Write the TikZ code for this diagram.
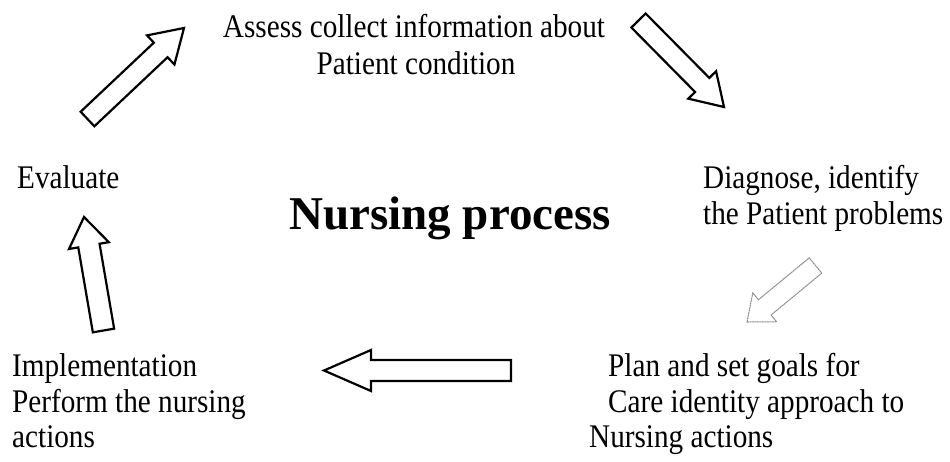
\documentclass[tikz,border=0pt]{standalone}
\usepackage{fontspec}
\setmainfont{Liberation Serif}[FakeStretch=0.885]
\newfontfamily\headfont{Liberation Serif}
\usetikzlibrary{calc}
\tikzset{
  lbl/.style={inner sep=0pt, anchor=base west, font=\fontsize{33}{36}\selectfont},
  head/.style={inner sep=0pt, anchor=base west, font=\headfont\fontsize{47}{52}\selectfont\bfseries},
  arrowline/.style={draw=black, fill=white, line width=2.2pt, line join=miter},
  faintarrow/.style={draw=black!45, fill=white, line width=1pt, dash pattern=on 2pt off 0.5pt}
}
% #1 style, #2 tail coordinate, #3 tip coordinate, #4 shaft half width, #5 head half width, #6 head length
\newcommand\blockarrow[6][arrowline]{%
  \coordinate (#2-base) at ($(#3)!#6pt!(#2)$);
  \draw[#1] ($(#2)!#4pt!90:(#3)$) -- ($(#2-base)!#4pt!90:(#3)$) -- ($(#2-base)!#5pt!90:(#3)$)
    -- (#3) -- ($(#2-base)!#5pt!-90:(#3)$) -- ($(#2-base)!#4pt!-90:(#3)$) -- ($(#2)!#4pt!-90:(#3)$) -- cycle;
}
\begin{document}
\begin{tikzpicture}[x=1pt,y=-1pt]
\useasboundingbox (0,0) rectangle (950,461);

% texts
\node[lbl, anchor=base] (assess1) at (414,37) {Assess collect information about};
\node[lbl, anchor=base] (assess2) at (416,74) {Patient condition};
\node[lbl] (evaluate) at (17,188) {Evaluate};
\node[lbl] (diag1) at (703,188) {Diagnose, identify};
\node[lbl] (diag2) at (703,224) {the Patient problems};
\node[head] (title) at (289,229) {Nursing process};
\node[lbl] (impl1) at (12,376) {Implementation};
\node[lbl] (impl2) at (12,412) {Perform the nursing};
\node[lbl] (impl3) at (12,447) {actions};
\node[lbl] (plan1) at (608,376) {Plan and set goals for};
\node[lbl] (plan2) at (608,412) {Care identity approach to};
\node[lbl] (plan3) at (589,447) {Nursing actions};

% arrows
\coordinate (a1t) at (87.5,119);  \coordinate (a1h) at (184,28);
\blockarrow{a1t}{a1h}{10}{20}{32}
\coordinate (a2t) at (638.5,20.5); \coordinate (a2h) at (724,107);
\blockarrow{a2t}{a2h}{10}{19.5}{31}
\coordinate (a3t) at (815.5,265.5); \coordinate (a3h) at (747,322);
\blockarrow[faintarrow]{a3t}{a3h}{9.9}{18.8}{23}
\coordinate (a4t) at (511,370.5); \coordinate (a4h) at (324,370.5);
\blockarrow{a4t}{a4h}{10.5}{20.5}{47}
\coordinate (a5t) at (103.5,330.5); \coordinate (a5h) at (84,217);
\blockarrow{a5t}{a5h}{10.8}{20.2}{29}
\end{tikzpicture}
\end{document}
